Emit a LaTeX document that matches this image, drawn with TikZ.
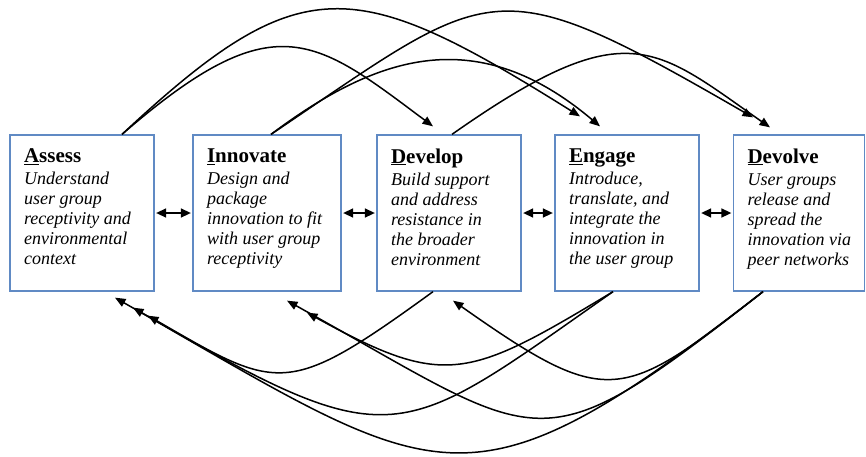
\documentclass[tikz,border=0pt]{standalone}
\usepackage{fontspec}
\setmainfont{Liberation Serif}
\usetikzlibrary{arrows.meta}
\definecolor{boxblue}{RGB}{96,138,196}
\newcommand{\stagetitle}{\fontsize{21}{22}\selectfont\bfseries\upshape}

\begin{document}
\begin{tikzpicture}[x=1pt,y=-1pt,
	stage/.style={draw=boxblue,line width=1.3pt,minimum height=156pt,inner sep=0pt},
	stagetext/.style={anchor=north west,inner sep=0pt,align=left,font=\fontsize{18}{20}\selectfont\itshape},
	flow/.style={line width=1.5pt,-{Triangle[length=10.5pt,width=8.5pt]}},
	link/.style={line width=1.5pt,{Triangle[length=10pt,width=9pt]}-{Triangle[length=10pt,width=9pt]},shorten <=1.5pt,shorten >=1.5pt}]
	\useasboundingbox (0,0) rectangle (866,456);

	%boxes
	\node[stage,minimum width=144pt] (assess) at (82,213) {}; %assess
	\node[stage,minimum width=148pt] (innovate) at (267,213) {}; %innovate
	\node[stage,minimum width=144pt] (develop) at (449,213) {}; %develop
	\node[stage,minimum width=144pt] (engage) at (627,213) {}; %engage
	\node[stage,minimum width=131pt] (devolve) at (799,213) {}; %devolve

	%texts
	\node[stagetext] (assess text) at ([xshift=14.5pt,yshift=-14pt]assess.north west) {{\stagetitle\underline{A}ssess}\\[2pt] Understand\\ user group\\ receptivity and\\ environmental\\ context};
	\node[stagetext] (innovate text) at ([xshift=14.5pt,yshift=-14pt]innovate.north west) {{\stagetitle\underline{I}nnovate}\\[2pt] Design and\\ package\\ innovation to fit\\ with user group\\ receptivity};
	\node[stagetext] (develop text) at ([xshift=14.5pt,yshift=-14pt]develop.north west) {{\stagetitle\underline{D}evelop}\\[2pt] Build support\\ and address\\ resistance in\\ the broader\\ environment};
	\node[stagetext] (engage text) at ([xshift=14.5pt,yshift=-14pt]engage.north west) {{\stagetitle\underline{E}ngage}\\[2pt] Introduce,\\ translate, and\\ integrate the\\ innovation in\\ the user group};
	\node[stagetext] (devolve text) at ([xshift=14.5pt,yshift=-14pt]devolve.north west) {{\stagetitle\underline{D}evolve}\\[2pt] User groups\\ release and\\ spread the\\ innovation via\\ peer networks};

	%neighbours
	\draw[link] (assess.east) -- (innovate.west);
	\draw[link] (innovate.east) -- (develop.west);
	\draw[link] (develop.east) -- (engage.west);
	\draw[link] (engage.east) -- (devolve.west);

	%forward ends-----------------------------------------
	\coordinate (assess out) at ([xshift=40pt]assess.north);
	\coordinate (innovate out) at ([xshift=4pt]innovate.north);
	\coordinate (develop out) at ([xshift=3pt]develop.north);
	\coordinate (develop in) at ([xshift=-16pt,yshift=8pt]develop.north);
	\coordinate (engage in a) at ([xshift=-47pt,yshift=18pt]engage.north);
	\coordinate (engage in b) at ([xshift=-27pt,yshift=8pt]engage.north);
	\coordinate (devolve in a) at ([xshift=-46pt,yshift=17pt]devolve.north);
	\coordinate (devolve in b) at ([xshift=-29pt,yshift=7pt]devolve.north);

	%forward arcs
	\draw[flow] (assess out) .. controls +(152,-132) and +(-119,-89) .. (develop in); %A to D
	\draw[flow] (assess out) .. controls +(179,-167) and +(-227,-142) .. (engage in a); %A to E
	\draw[flow] (innovate out) .. controls +(108,-81) and +(-122,-103) .. (engage in b); %I to E
	\draw[flow] (innovate out) .. controls +(224,-151) and +(-263,-152) .. (devolve in a); %I to Dv
	\draw[flow] (develop out) .. controls +(175,-123) and +(-116,-81) .. (devolve in b); %D to Dv

	%backward ends----------------------------------------
	\coordinate (develop back) at ([xshift=-16pt]develop.south);
	\coordinate (engage back) at ([xshift=-14pt]engage.south);
	\coordinate (devolve back) at ([xshift=-36pt]devolve.south);
	\coordinate (assess in a) at ([xshift=33pt,yshift=-6pt]assess.south);
	\coordinate (assess in b) at ([xshift=51pt,yshift=-16pt]assess.south);
	\coordinate (assess in c) at ([xshift=66pt,yshift=-24pt]assess.south);
	\coordinate (innovate in a) at ([xshift=20pt,yshift=-9pt]innovate.south);
	\coordinate (innovate in b) at ([xshift=40pt,yshift=-21pt]innovate.south);
	\coordinate (develop in b) at ([xshift=4pt,yshift=-9pt]develop.south);

	%backward arcs
	\draw[flow] (develop back) .. controls +(-146,106) and +(131,76) .. (assess in c); %D to A
	\draw[flow] (engage back) .. controls +(-217,152) and +(263,152) .. (assess in b); %E to A
	\draw[flow] (devolve back) .. controls +(-300,232) and +(329,188) .. (assess in a); %Dv to A
	\draw[flow] (engage back) .. controls +(-146,88) and +(138,76) .. (innovate in b); %E to I
	\draw[flow] (devolve back) .. controls +(-229,179) and +(261,145) .. (innovate in a); %Dv to I
	\draw[flow] (devolve back) .. controls +(-142,111) and +(155,109) .. (develop in b); %Dv to D
\end{tikzpicture}
\end{document}
